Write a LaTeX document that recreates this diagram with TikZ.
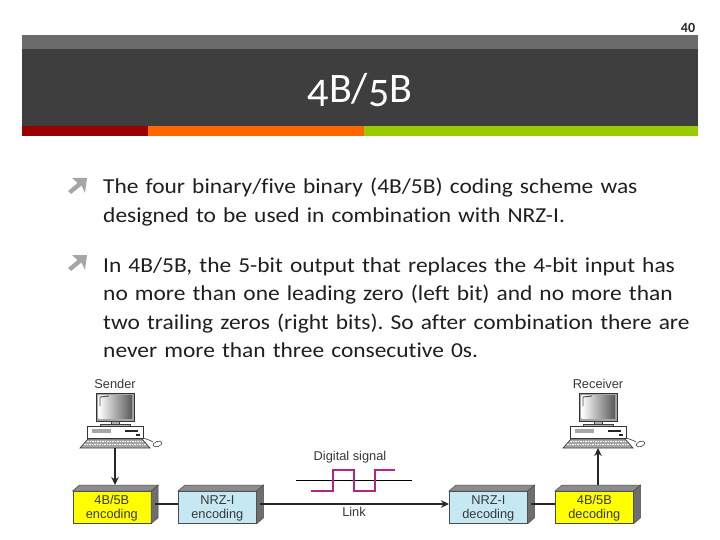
\documentclass[tikz,border=0pt]{standalone}
\usepackage{fontspec}
\setmainfont[Ligatures=NoCommon]{Carlito}
\newfontfamily\bodyfont[Ligatures=NoCommon,FakeStretch=1.1,WordSpace=0.75]{Carlito}
\newfontfamily\diagfont{Liberation Sans}
\usetikzlibrary{arrows.meta,calc}
\definecolor{bandgray}{HTML}{6B6B6B}
\definecolor{banddark}{HTML}{3E3E3E}
\definecolor{bandred}{HTML}{990000}
\definecolor{bandorange}{HTML}{FF6600}
\definecolor{bandgreen}{HTML}{99CC00}
\definecolor{bulletgray}{HTML}{A6A6A6}
\definecolor{boxyellow}{HTML}{FFFF00}
\definecolor{boxblue}{HTML}{C6E8F2}
\definecolor{sidegray}{HTML}{6E6E6E}
\definecolor{topgray}{HTML}{8C8C8C}
\definecolor{sigpink}{HTML}{B5247F}
\tikzset{
  x=1pt,y=-1pt,
  bodytext/.style={anchor=base west,inner sep=0pt,align=left,text=black!88,font=\bodyfont\fontsize{21.3}{28.6}\selectfont\frenchspacing,text width=615pt},
  cubeface/.style={draw=black!70,line width=0.7pt,minimum width=78pt,minimum height=32pt,inner sep=0pt},
  cubetext/.style={inner sep=0pt,align=center,font=\diagfont\fontsize{12.8}{14}\selectfont,text=black!78},
  linkline/.style={line width=1.3pt,draw=black!85},
  arrowline/.style={linkline,-{Stealth[length=8pt,width=7.5pt]}},
  diaglabel/.style={font=\diagfont\fontsize{12.8}{14}\selectfont,text=black!78,inner sep=0pt},
  pics/computer/.style={code={
    % monitor
    \draw[black!80,line width=0.8pt,fill=black!35] (-19,9) rectangle (19,37);
    \shade[left color=white,right color=black!65] (-16.5,11.5) rectangle (17,34.5);
    \draw[black!70,line width=0.9pt] (-15,22) -- (-15,13) -- (-6,12);
    \draw[black!75,fill=black!30,line width=0.6pt] (-4,37) rectangle (4,40);
    \draw[black!75,fill=black!30,line width=0.6pt] (-15,40) rectangle (15,42);
    % tower
    \draw[black!80,fill=white,line width=0.8pt] (-28,42) rectangle (28,54);
    \fill[black!35] (-23,45) rectangle (-4,48.5);
    \draw[black!85,line width=1.2pt] (10,47) -- (23,47);
    \fill[black!85] (21,50) rectangle (25,52);
    % keyboard
    \draw[black!75,fill=black!35,line width=0.7pt] (-27,55) -- (27,55) -- (35,64) -- (-35,64) -- cycle;
    \draw[white,line width=0.6pt,dash pattern=on 1.5pt off 1pt] (-28,57.5) -- (28,57.5);
    \draw[white,line width=0.6pt,dash pattern=on 1.5pt off 1pt] (-31,60.5) -- (31,60.5);
    % mouse
    \draw[black!75,line width=0.6pt] (28,54) .. controls (31,55) and (35,56) .. (38,58);
    \draw[black!75,fill=white,line width=0.6pt,rotate around={20:(42.5,60)}] (42.5,60) ellipse (4.5pt and 2.6pt);
    \coordinate (-base) at (0,64);
  }}
}
\newcommand{\cubebox}[4]{% name, front-left x, fill, text
  \node[cubeface,fill=#3,anchor=north west] (#1) at (#2,491) {};
  \node[cubetext] (#1t) at ([yshift=-1.2pt]#1.center) {#4};
  \fill[topgray,draw=black!70,line width=0.5pt] (#1.north west) -- ++(7,-6) -- ($(#1.north east)+(7,-6)$) -- (#1.north east) -- cycle;
  \fill[sidegray,draw=black!70,line width=0.5pt] (#1.north east) -- ++(7,-6) -- ($(#1.south east)+(7,-6)$) -- (#1.south east) -- cycle;
}
\begin{document}
\begin{tikzpicture}
\useasboundingbox (0,0) rectangle (720,540);
\fill[white] (0,0) rectangle (720,540);
% header band
\fill[bandgray] (22,35) rectangle (698,49);
\fill[banddark] (22,49) rectangle (698,126);
\fill[bandred] (22,126) rectangle (148,136);
\fill[bandorange] (148,126) rectangle (364,136);
\fill[bandgreen] (364,126) rectangle (698,136);
\node[font=\bfseries\fontsize{14}{16}\selectfont,text=black!85,inner sep=0pt] (pagenum) at (688,27.5) {40};
\node[font=\fontsize{42}{45}\selectfont,text=white,inner sep=0pt,anchor=base] (title) at (360,103) {\addfontfeature{Numbers=OldStyle}4B/5B};
% bullets
\foreach \yy in {0,77}{
  \fill[bulletgray,shift={(0,\yy)}] (72,178) -- (87,178) -- (85,193) -- (81.5,185.5) -- (71,194) -- (68,191) -- (77.5,183) -- cycle;
}
% body
\node[bodytext] (para1) at (103,194) {The four binary/five binary (4B/5B) coding scheme was\\designed to be used in combination with NRZ-I.};
\node[bodytext] (para2) at (103,272) {In 4B/5B, the 5-bit output that replaces the 4-bit input has\\no more than one leading zero (left bit) and no more than\\two trailing zeros (right bits). So after combination there are\\never more than three consecutive 0s.};
% computers
\node[diaglabel] (sender) at (115,384) {Sender};
\node[diaglabel] (receiver) at (598,384) {Receiver};
\pic (snd) at (115,384) {computer};
\pic (rcv) at (598,384) {computer};
% boxes
\cubebox{enc}{72.5}{boxyellow}{4B/5B\\encoding}
\cubebox{nrze}{178}{boxblue}{NRZ-I\\encoding}
\cubebox{nrzd}{449}{boxblue}{NRZ-I\\decoding}
\cubebox{dec}{555}{boxyellow}{4B/5B\\decoding}
% connectors
\coordinate (lk) at (0,504);
\draw[arrowline] (snd-base) -- ($(enc.north -| snd-base)+(0,-6)$);
\draw[arrowline] ($(dec.north -| rcv-base)+(0,-6)$) -- (rcv-base);
\draw[linkline] ([xshift=3.5pt]enc.east |- lk) -- (nrze.west |- lk);
\draw[arrowline] ([xshift=3.5pt]nrze.east |- lk) -- (nrzd.west |- lk);
\draw[linkline] ([xshift=3.5pt]nrzd.east |- lk) -- (dec.west |- lk);
% signal
\node[diaglabel] (dsig) at (350,457) {Digital signal};
\node[diaglabel] (link) at (354,512) {Link};
\draw[black,line width=0.6pt] (296,480) -- (412,480);
\draw[sigpink,line width=1.8pt] (311,491) -- (333,491) -- (333,470) -- (354,470) -- (354,491) -- (375,491) -- (375,470) -- (395,470);
\end{tikzpicture}
\end{document}
